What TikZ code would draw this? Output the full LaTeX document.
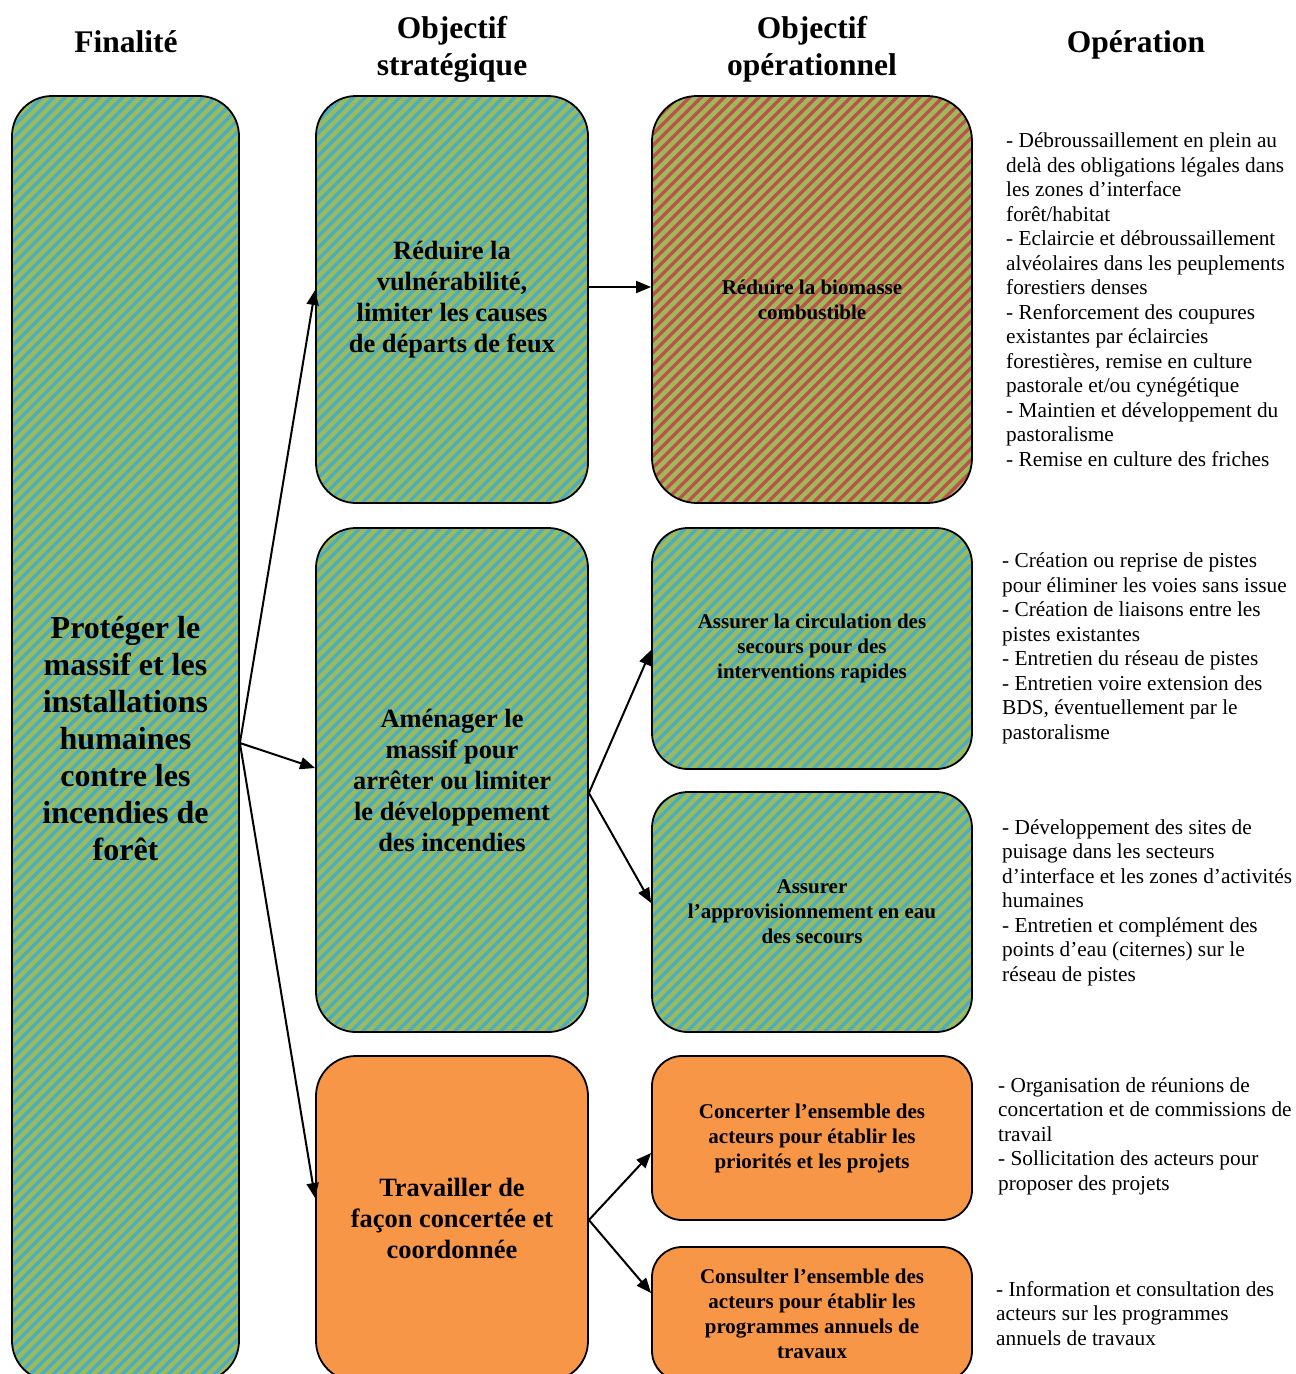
\documentclass[tikz,border=0pt]{standalone}
\usepackage{fontspec}
\setmainfont{Liberation Serif}
\usetikzlibrary{arrows.meta,calc}
\definecolor{cgreen}{HTML}{9BBB59}
\definecolor{cblue}{HTML}{4BACC6}
\definecolor{cred}{HTML}{C0504D}
\definecolor{corange}{HTML}{F79646}
\tikzset{
  stripes/.style={path picture={\foreach \k in {-125,...,40}{\draw[#1,line width=3.4pt] ([xshift=\k*11.5pt]path picture bounding box.south west) -- ++(1500pt,1500pt);}}},
  box/.style={draw=black,line width=1.8pt,align=center,inner sep=0pt},
  bigtext/.style={font=\bfseries\fontsize{32}{37}\selectfont},
  midtext/.style={font=\bfseries\fontsize{26.4}{31}\selectfont},
  smalltext/.style={font=\bfseries\fontsize{21}{25}\selectfont},
  head/.style={font=\bfseries\fontsize{31.5}{37}\selectfont,align=center,inner sep=0pt,anchor=base},
  optext/.style={font=\fontsize{21.3}{24.5}\selectfont,align=left,inner sep=0pt,anchor=base west},
  arr/.style={line width=2pt,-{Triangle[length=15pt,width=12pt]}},
}
\begin{document}
\begin{tikzpicture}[x=1pt,y=-1pt]
\clip (0,0) rectangle (1296,1374);
\fill[white] (0,0) rectangle (1296,1374);
% headers
\node[head] (h1) at (126,52) {Finalité};
\node[head] (h2) at (452,75) {Objectif\\stratégique};
\node[head] (h3) at (812,75) {Objectif\\opérationnel};
\node[head] (h4) at (1136,52) {Opération};
% boxes
\node[box,bigtext,fill=cgreen,stripes=cblue,rounded corners=40pt,minimum width=227pt,minimum height=1285pt] (fin) at (125.5,738.5)
  {Protéger le\\massif et les\\installations\\humaines\\contre les\\incendies de\\forêt};
\node[box,midtext,fill=cgreen,stripes=cblue,rounded corners=40pt,minimum width=272pt,minimum height=407pt] (s1) at (452,299.5)
  {Réduire la\\vulnérabilité,\\limiter les causes\\de départs de feux};
\node[box,midtext,fill=cgreen,stripes=cblue,rounded corners=40pt,minimum width=272pt,minimum height=504pt] (s2) at (452,780)
  {Aménager le\\massif pour\\arrêter ou limiter\\le développement\\des incendies};
\node[box,midtext,fill=corange,rounded corners=40pt,minimum width=272pt,minimum height=325pt] (s3) at (452,1218.5)
  {Travailler de\\façon concertée et\\coordonnée};
\node[box,smalltext,fill=cgreen,stripes=cred,rounded corners=45pt,minimum width=320pt,minimum height=407pt] (o1) at (812,299.5)
  {Réduire la biomasse\\combustible};
\node[box,smalltext,fill=cgreen,stripes=cblue,rounded corners=36pt,minimum width=320pt,minimum height=241pt] (o2) at (812,648.5)
  {Assurer la circulation des\\secours pour des\\interventions rapides};
\node[box,smalltext,fill=cgreen,stripes=cblue,rounded corners=36pt,minimum width=320pt,minimum height=240pt] (o3) at (812,912)
  {Assurer\\l’approvisionnement en eau\\des secours};
\node[box,smalltext,fill=corange,rounded corners=30pt,minimum width=320pt,minimum height=164pt] (o4) at (812,1138)
  {Concerter l’ensemble des\\acteurs pour établir les\\priorités et les projets};
\node[box,smalltext,fill=corange,rounded corners=30pt,minimum width=320pt,minimum height=134pt] (o5) at (812,1314)
  {Consulter l’ensemble des\\acteurs pour établir les\\programmes annuels de\\travaux};
% arrows
\draw[arr] ($(fin.east)+(0,4.5)$) -- ($(s1.west)+(0,-9.5)$);
\draw[arr] ($(fin.east)+(0,4.5)$) -- ($(s2.west)+(0,-12)$);
\draw[arr] ($(fin.east)+(0,4.5)$) -- ($(s3.west)+(0,-20.5)$);
\draw[arr] ($(s1.east)+(0,-12.5)$) -- ($(o1.west)+(0,-12.5)$);
\draw[arr] ($(s2.east)+(0,13)$) -- ($(o2.west)+(0,1.5)$);
\draw[arr] ($(s2.east)+(0,13)$) -- ($(o3.west)+(0,-9)$);
\draw[arr] ($(s3.east)+(0,1.5)$) -- ($(o4.west)+(0,15)$);
\draw[arr] ($(s3.east)+(0,1.5)$) -- ($(o5.west)+(0,-21)$);
% operations (anchor = baseline of last line)
\node[optext] (t1) at (1006,466) {- Débroussaillement en plein au\\delà des obligations légales dans\\les zones d’interface\\forêt/habitat\\- Eclaircie et débroussaillement\\alvéolaires dans les peuplements\\forestiers denses\\- Renforcement des coupures\\existantes par éclaircies\\forestières, remise en culture\\pastorale et/ou cynégétique\\- Maintien et développement du\\pastoralisme\\- Remise en culture des friches};
\node[optext] (t2) at (1002,739) {- Création ou reprise de pistes\\pour éliminer les voies sans issue\\- Création de liaisons entre les\\pistes existantes\\- Entretien du réseau de pistes\\- Entretien voire extension des\\BDS, éventuellement par le\\pastoralisme};
\node[optext] (t3) at (1002,981) {- Développement des sites de\\puisage dans les secteurs\\d’interface et les zones d’activités\\humaines\\- Entretien et complément des\\points d’eau (citernes) sur le\\réseau de pistes};
\node[optext] (t4) at (998,1190) {- Organisation de réunions de\\concertation et de commissions de\\travail\\- Sollicitation des acteurs pour\\proposer des projets};
\node[optext] (t5) at (996,1345) {- Information et consultation des\\acteurs sur les programmes\\annuels de travaux};
\end{tikzpicture}
\end{document}
